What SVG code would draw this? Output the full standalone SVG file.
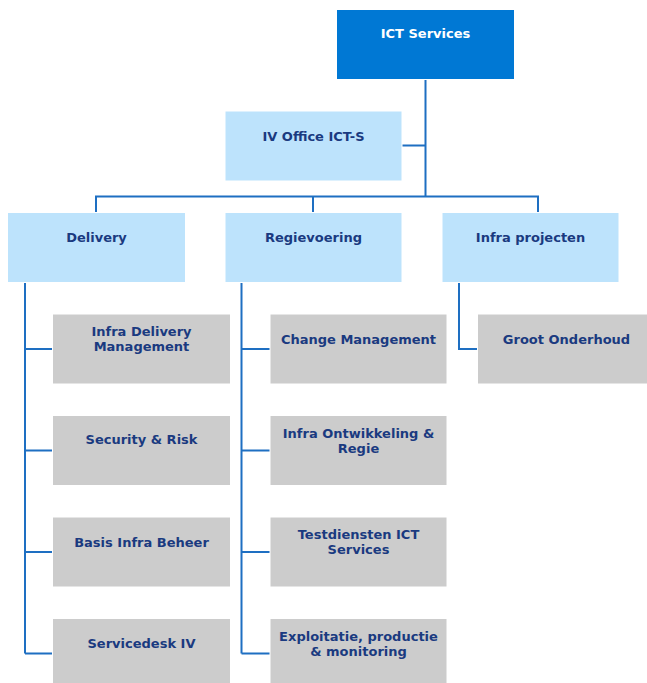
<svg xmlns="http://www.w3.org/2000/svg" width="647" height="683" viewBox="0 0 647 683">
<style>
.top{fill:#0078D4;stroke:#ffffff;stroke-width:1}
.lb{fill:#BDE3FC;stroke:#ffffff;stroke-width:1}
.gr{fill:#CCCCCC;stroke:#ffffff;stroke-width:1}
text{font-family:"DejaVu Sans",Verdana,sans-serif;font-weight:bold;font-size:13px;fill:#1A3A80;text-anchor:middle}
.w{fill:#ffffff}
.con{fill:none;stroke:#1E6FC2;stroke-width:2}
</style>
<rect width="647" height="683" fill="#ffffff"/>
<g id="connectors">
<path class="con" d="M425.5 79V197M402 145.5H425.5M96 212V196.5H538V212M313 196.5V212"/>
<path class="con" d="M25 283V653.5M25 349H52M25 450.5H52M25 552H52M25 653.5H52"/>
<path class="con" d="M241.5 283V653.5M241.5 349H270M241.5 450.5H270M241.5 552H270M241.5 653.5H270"/>
<path class="con" d="M459 283V349H478"/>
</g>
<g id="ict-services"><rect class="top" x="336.5" y="9.5" width="178" height="70"/><text class="w" x="425.5" y="38">ICT Services</text></g>
<g id="iv-office"><rect class="lb" x="225" y="111" width="177" height="70"/><text x="313.5" y="141">IV Office  ICT-S</text></g>
<g id="delivery"><rect class="lb" x="7.5" y="212.5" width="178" height="70"/><text x="96.5" y="242">Delivery</text></g>
<g id="regievoering"><rect class="lb" x="225" y="212.5" width="177" height="70"/><text x="313.5" y="242">Regievoering</text></g>
<g id="infra-projecten"><rect class="lb" x="442" y="212.5" width="177" height="70"/><text x="530.5" y="242">Infra  projecten</text></g>
<g id="infra-delivery-management"><rect class="gr" x="52.5" y="314" width="178" height="70"/><text x="141.5" y="336">Infra  Delivery</text><text x="141.5" y="351">Management</text></g>
<g id="security-risk"><rect class="gr" x="52.5" y="415.5" width="178" height="70"/><text x="141.5" y="444">Security  &amp; Risk</text></g>
<g id="basis-infra-beheer"><rect class="gr" x="52.5" y="517" width="178" height="70"/><text x="141.5" y="547">Basis Infra Beheer</text></g>
<g id="servicedesk-iv"><rect class="gr" x="52.5" y="618.5" width="178" height="70"/><text x="141.5" y="648">Servicedesk  IV</text></g>
<g id="change-management"><rect class="gr" x="270" y="314" width="177" height="70"/><text x="358.5" y="344">Change  Management</text></g>
<g id="infra-ontwikkeling"><rect class="gr" x="270" y="415.5" width="177" height="70"/><text x="358.5" y="438">Infra  Ontwikkeling  &amp;</text><text x="358.5" y="453">Regie</text></g>
<g id="testdiensten"><rect class="gr" x="270" y="517" width="177" height="70"/><text x="358.5" y="539">Testdiensten  ICT</text><text x="358.5" y="554">Services</text></g>
<g id="exploitatie"><rect class="gr" x="270" y="618.5" width="177" height="70"/><text x="358.5" y="641">Exploitatie,  productie</text><text x="358.5" y="656">&amp; monitoring</text></g>
<g id="groot-onderhoud"><rect class="gr" x="477.5" y="314" width="178" height="70"/><text x="566.5" y="344">Groot  Onderhoud</text></g>
</svg>
